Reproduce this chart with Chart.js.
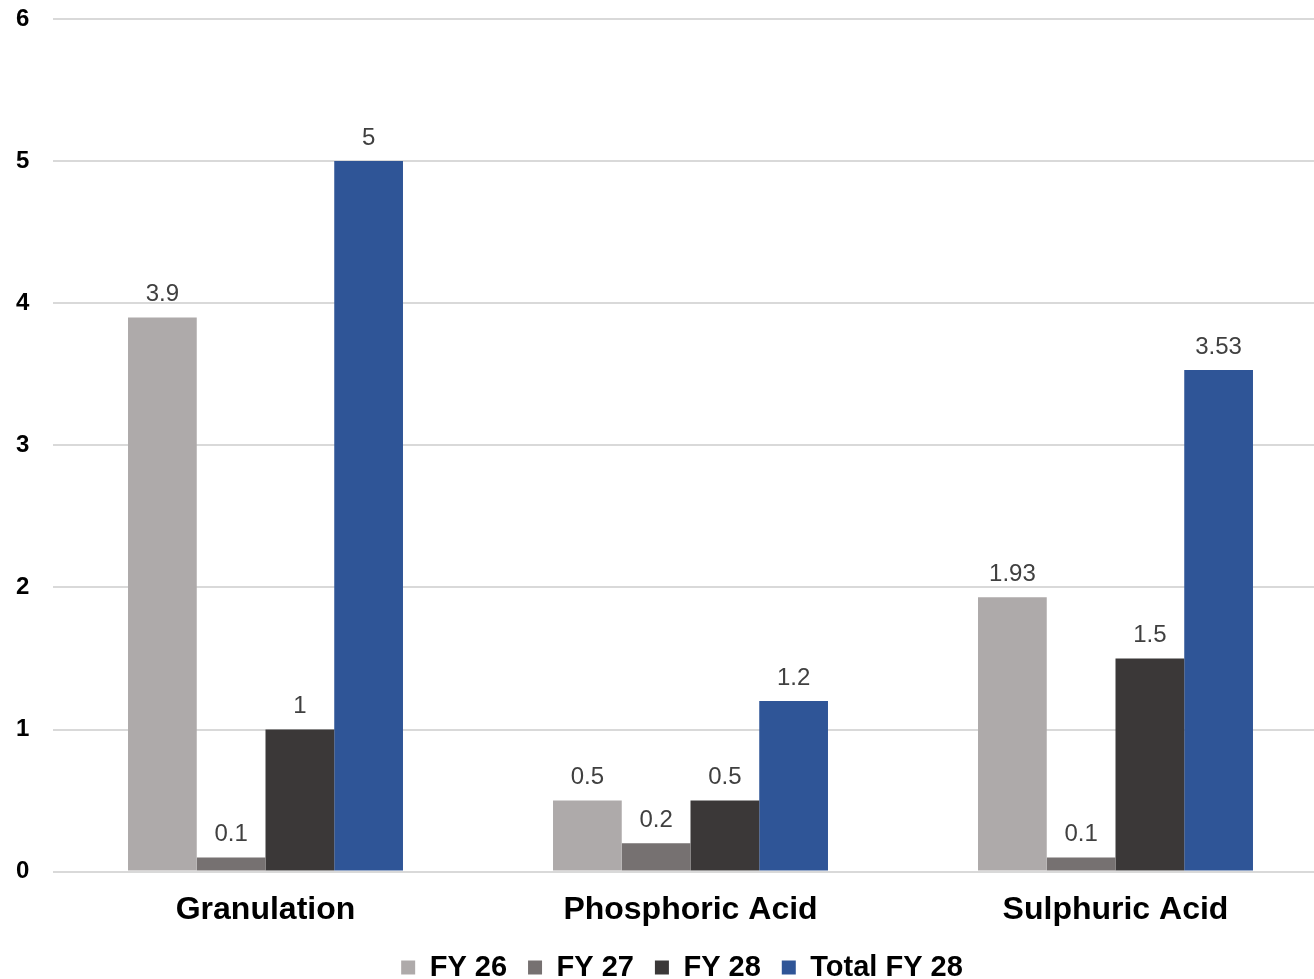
<!DOCTYPE html>
<html>
<head>
<meta charset="utf-8">
<script src="https://cdn.jsdelivr.net/npm/chart.js"></script>
<style>
  html, body { margin: 0; padding: 0; background: #fff; overflow: hidden; }
  #wrap { width: 1328px; height: 992px; }
</style>
</head>
<body>
<div id="wrap"><canvas id="chart"></canvas></div>
<script>
// Chart data
const categories = ['Granulation', 'Phosphoric Acid', 'Sulphuric Acid'];
const fy26 = [3.9, 0.5, 1.93];
const fy27 = [0.1, 0.2, 0.1];
const fy28 = [1, 0.5, 1.5];
const totalFy28 = [5, 1.2, 3.53];
const seriesNames = ['FY 26', 'FY 27', 'FY 28', 'Total FY 28'];
const yMin = 0, yMax = 6, yStep = 1;

const colors = ['#AEAAAA', '#767171', '#3B3838', '#2F5597'];
const FONT = 'Arial, "Liberation Sans", sans-serif';

// Simple value labels above bars
const valueLabels = {
    id: 'valueLabels',
    afterDatasetsDraw(chart) {
        const ctx = chart.ctx;
        ctx.save();
        ctx.font = '24px ' + FONT;
        ctx.fillStyle = '#404040';
        ctx.textAlign = 'center';
        ctx.textBaseline = 'middle';
        chart.data.datasets.forEach((ds, i) => {
            chart.getDatasetMeta(i).data.forEach((bar, j) => {
                ctx.fillText(String(ds.data[j]), bar.x, bar.y - 23);
            });
        });
        ctx.restore();
    }
};

// nudge legend to the right, as in the original
const legendShift = {
    id: 'legendShift',
    afterLayout(chart) {
        chart.legend.left += 10;
        chart.legend.right += 10;
    }
};

const seriesData = [fy26, fy27, fy28, totalFy28];

new Chart(document.getElementById('chart'), {
    type: 'bar',
    data: {
        labels: categories,
        datasets: seriesNames.map((name, i) => ({
            label: name,
            data: seriesData[i],
            backgroundColor: colors[i],
            borderWidth: 0,
            categoryPercentage: 0.647,
            barPercentage: 1
        }))
    },
    options: {
        responsive: true,
        maintainAspectRatio: false,
        animation: false,
        layout: { padding: { top: 19, left: 16, right: 0, bottom: 0 } },
        plugins: {
            legend: {
                position: 'bottom',
                labels: {
                    font: { family: FONT, size: 29, weight: 'bold' },
                    color: '#000',
                    boxWidth: 14,
                    boxHeight: 14,
                    padding: 21
                }
            },
            tooltip: { enabled: false }
        },
        scales: {
            x: {
                afterFit(scale) { scale.height -= 8; },
                grid: { display: false },
                border: { display: false },
                ticks: {
                    font: { family: FONT, size: 32, weight: 'bold' },
                    color: '#000',
                    padding: 11
                }
            },
            y: {
                min: yMin,
                max: yMax,
                afterFit(scale) { scale.width = 37; },
                grid: { color: '#D9D9D9', lineWidth: 2, drawTicks: false },
                border: { display: false },
                ticks: {
                    stepSize: yStep,
                    crossAlign: 'far',
                    font: { family: FONT, size: 24, weight: 'bold' },
                    color: '#000',
                    padding: 0
                }
            }
        }
    },
    plugins: [valueLabels, legendShift]
});
</script>
</body>
</html>
